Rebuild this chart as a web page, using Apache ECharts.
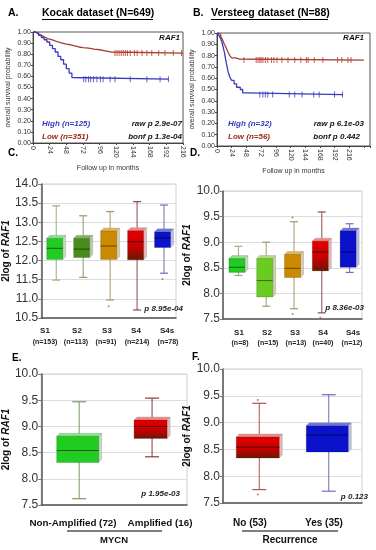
<!DOCTYPE html>
<html><head><meta charset="utf-8">
<script src="https://cdn.jsdelivr.net/npm/echarts@6/dist/echarts.min.js"></script>
<style>html,body{margin:0;padding:0;background:#fff}#c{width:376px;height:550px}</style>
</head><body><div id="c"></div>
<script>
// ---------- DATA ----------
const aLowT  = [0,3,6,9,12,15,18,21,24,30,36,42,48,54,60,66,72,80,88,96,104,112,216];
const aLowS  = [1,0.99,0.98,0.97,0.96,0.95,0.94,0.935,0.925,0.91,0.9,0.89,0.885,0.875,0.865,0.86,0.855,0.845,0.84,0.83,0.82,0.81,0.81];
const aHighT = [0,4,8,12,16,20,24,28,32,36,40,44,48,52,56,58,195];
const aHighS = [1,0.99,0.97,0.95,0.93,0.91,0.88,0.85,0.82,0.78,0.75,0.71,0.67,0.63,0.59,0.575,0.575];
const aLowCensor  = [118,121,124,127,130,133,136,140,146,150,157,164,171,181,190,202,214];
const aHighCensor = [73,76,80,83,87,92,97,101,111,118,140,164,183,195];

const bLowT  = [0,3,6,9,12,15,18,21,24,30,36,240];
const bLowS  = [1,0.99,0.97,0.94,0.9,0.87,0.83,0.8,0.78,0.77,0.76,0.76];
const bHighT = [0,3,6,9,12,15,18,21,24,28,32,38,42,48,206];
const bHighS = [1,0.98,0.95,0.9,0.83,0.74,0.66,0.61,0.58,0.55,0.52,0.5,0.47,0.455,0.455];
const bLowCensor  = [44,64,67,70,72,75,79,83,89,93,98,106,116,127,137,146,149,159,173,197,204,214,219];
const bHighCensor = [70,75,79,83,91,118,127,139,158,167,192,205];

const stageCats = ['S1','S2','S3','S4','S4s'];
const cCounts = ['(n=153)','(n=113)','(n=91)','(n=214)','(n=78)'];
const dCounts = ['(n=8)','(n=15)','(n=13)','(n=40)','(n=12)'];
// [low whisker, Q1, median, Q3, high whisker]
const cBoxes = [[11.49,12.03,12.32,12.58,13.43],[11.56,12.08,12.30,12.58,13.17],[10.97,12.03,12.38,12.77,13.28],[10.71,12.02,12.49,12.78,13.54],[11.67,12.34,12.59,12.75,13.45]];
const cOutliers = [[2,10.81],[4,11.52]];
const dBoxes = [[8.35,8.41,8.51,8.68,8.92],[7.75,7.93,8.25,8.68,9.0],[7.70,8.31,8.49,8.76,9.40],[7.62,8.44,8.81,9.02,9.59],[8.41,8.51,8.81,9.22,9.36]];
const dOutliers = [[2,9.48],[2,7.6],[3,7.53]];
const eCats = ['Non-Amplified (72)','Amplified (16)'];
const eBoxes = [[7.62,8.31,8.54,8.81,9.47],[8.42,8.77,9.0,9.12,9.54]];
const fCats = ['No (53)','Yes (35)'];
const fBoxes = [[7.75,8.34,8.54,8.73,9.36],[7.72,8.45,8.77,8.94,9.52]];
const fOutliers = [[0,9.42],[0,7.66]];

// ---------- STYLE / LAYOUT ----------
const FONT = 'Liberation Sans, Arial, Helvetica, sans-serif';
const LOWC = '#a3402e', LOWTXT = '#9a2a1a', HIGHC = '#3a3ac0';
function redGrad(){ return new echarts.graphic.LinearGradient(0,0,0,1,[{offset:0,color:'#e40000'},{offset:0.55,color:'#c80000'},{offset:1,color:'#6a1800'}]); }
const GREEN = {front:'#1fcc1f', top:'#8ae48a', side:'#c4dcc0', med:'#1a5a1a', wh:'#9aae80'};
const OLIVE = {front:'#4a8c1c', top:'#8cb064', side:'#c0c8a8', med:'#244a0c', wh:'#8c9c70'};
const LIME  = {front:'#6acc20', top:'#aee074', side:'#c8d4a8', med:'#3a6a10', wh:'#98a070'};
const GOLD  = {front:'#cc8a00', top:'#e4b850', side:'#dcccaa', med:'#6a4800', wh:'#a8946c'};
const RED   = {front:'red', top:'#f08888', side:'#e4b8b8', med:'#5a0000', wh:'#8c4a4a'};
const BLUE  = {front:'#0a12cc', top:'#6a74e0', side:'#b8bee8', med:'#00085a', wh:'#6c6cc0'};
const cStyles = [GREEN, OLIVE, GOLD, RED, BLUE].map(s=>Object.assign({w:16},s));
const dStyles = [GREEN, LIME, GOLD, RED, BLUE].map(s=>Object.assign({w:16},s));
const eStyles = [Object.assign({w:42},GREEN,{wh:'#7a9a60'}), Object.assign({w:33},RED,{wh:'#8a3a3a'})];
const fStyles = [Object.assign({w:43},RED,{wh:'#b05050'}), Object.assign({w:42},BLUE)];
// label anchor positions (x centres) for category text
const cLabelX = [45,77,107,136,167], cNX = [45,76,106,137,168];
const dLabelX = [239,267,295,323,353], dNX = [240,268,296,323,352];
const eLabelX = [73,160], fLabelX = [250,324];

function zip(T,S){ return T.map((t,i)=>[t,S[i]]); }
function survAt(T,S,t){ let v=S[0]; for(let i=0;i<T.length;i++){ if(T[i]<=t) v=S[i]; } return v; }
function censorData(list,T,S){ return list.map(t=>[t,survAt(T,S,t)]); }

function boxRenderer(styles, depth, capW){
  return function(params, api){
    const st = styles[params.dataIndex];
    const c = api.value(0);
    const P = v => api.coord([c, v]);
    const lo=P(api.value(1)), q1=P(api.value(2)), md=P(api.value(3)), q3=P(api.value(4)), hi=P(api.value(5));
    const w = st.w, d = depth, cx = lo[0];
    const x0 = cx - w/2, x1 = cx + w/2, wx = cx + d/2;
    const front = st.front==='red' ? redGrad() : st.front;
    return {type:'group', children:[
      {type:'line', shape:{x1:wx,y1:hi[1],x2:wx,y2:lo[1]}, style:{stroke:st.wh,lineWidth:1}},
      {type:'line', shape:{x1:wx-capW/2,y1:hi[1],x2:wx+capW/2,y2:hi[1]}, style:{stroke:st.wh,lineWidth:1.2}},
      {type:'line', shape:{x1:wx-capW/2,y1:lo[1],x2:wx+capW/2,y2:lo[1]}, style:{stroke:st.wh,lineWidth:1.2}},
      {type:'polygon', shape:{points:[[x1,q3[1]],[x1+d,q3[1]-d],[x1+d,q1[1]-d],[x1,q1[1]]]}, style:{fill:st.side,stroke:'#999',lineWidth:0.4}},
      {type:'polygon', shape:{points:[[x0,q3[1]],[x0+d,q3[1]-d],[x1+d,q3[1]-d],[x1,q3[1]]]}, style:{fill:st.top,stroke:'#999',lineWidth:0.4}},
      {type:'rect', shape:{x:x0,y:q3[1],width:w,height:q1[1]-q3[1]}, style:{fill:front,stroke:'rgba(0,0,0,0.35)',lineWidth:0.5}},
      {type:'line', shape:{x1:x0,y1:md[1],x2:x1,y2:md[1]}, style:{stroke:st.med,lineWidth:1}}
    ]};
  };
}
function boxData(boxes){ return boxes.map((b,i)=>[i].concat(b)); }

function kmX(grid,max,hideAbove){
  return {gridIndex:grid,type:'value',min:0,max:max,interval:24,
    axisLine:{lineStyle:{color:'#444'}},axisTick:{length:2,lineStyle:{color:'#444'}},splitLine:{show:false},
    axisLabel:{rotate:-90,fontSize:7,margin:3,color:'#333',fontFamily:FONT,formatter:v=>v>hideAbove?'':String(v)},
    name:'Follow up in months',nameLocation:'middle',nameGap:22,nameTextStyle:{fontSize:7,color:'#333',fontFamily:FONT}};
}
function kmY(grid){
  return {gridIndex:grid,type:'value',min:0,max:1,interval:0.1,
    axisLine:{show:true,lineStyle:{color:'#444'}},axisTick:{show:true,length:2},splitLine:{show:false},
    axisLabel:{fontSize:7,margin:2,color:'#333',fontFamily:FONT,formatter:v=>v.toFixed(2)},
    name:'overall survival probability',nameLocation:'middle',nameGap:21,nameRotate:90,nameTextStyle:{fontSize:7,color:'#333',fontFamily:FONT}};
}
function boxY(grid,min,max){
  return {gridIndex:grid,type:'value',min:min,max:max,interval:0.5,
    axisLine:{show:true,lineStyle:{color:'#555',width:1.5}},axisTick:{show:true,length:3,lineStyle:{color:'#777'}},
    splitLine:{lineStyle:{color:'#dcdcdc'}},
    axisLabel:{fontSize:12,margin:3,color:'#333',fontFamily:FONT,formatter:v=>v.toFixed(1)},
    name:'{a|2log of }{b|RAF1}',nameLocation:'middle',nameGap:26,nameRotate:90,
    nameTextStyle:{rich:{a:{fontSize:10,fontWeight:'bold',fontFamily:FONT,color:'#111'},b:{fontSize:10,fontWeight:'bold',fontStyle:'italic',fontFamily:FONT,color:'#111'}}}};
}
function catX(grid,cats){
  return {gridIndex:grid,type:'category',data:cats,boundaryGap:true,
    axisLine:{lineStyle:{color:'#555',width:1.5}},axisTick:{show:false},axisLabel:{show:false}};
}

const chart = echarts.init(document.getElementById('c'), null, {renderer:'canvas'});

function txt(x,y,text,font,fill,align){ return {type:'text',x:x,y:y,z:10,style:{text:text,font:font,fill:fill||'#000',align:align||'left',verticalAlign:'middle'}}; }
function ln(x1,y1,x2,y2,c,w){ return {type:'line',z:10,shape:{x1,y1,x2,y2},style:{stroke:c||'#000',lineWidth:w||1}}; }
const BI8 = 'italic bold 8px '+FONT;

const catTexts = [];
stageCats.forEach((s,i)=>{
  catTexts.push(txt(cLabelX[i],331,s,'bold 8px '+FONT,'#222','center'));
  catTexts.push(txt(cNX[i],342,cCounts[i],'bold 7px '+FONT,'#222','center'));
  catTexts.push(txt(dLabelX[i],333,s,'bold 8px '+FONT,'#222','center'));
  catTexts.push(txt(dNX[i],343.5,dCounts[i],'bold 7px '+FONT,'#222','center'));
});
eCats.forEach((s,i)=>catTexts.push(txt(eLabelX[i],523,s,'bold 9.8px '+FONT,'#111','center')));
fCats.forEach((s,i)=>catTexts.push(txt(fLabelX[i],523,s,'bold 10px '+FONT,'#111','center')));

const option = {
  animation:false,
  backgroundColor:'#fff',
  grid:[
    {left:33,top:32,width:150,height:111,show:true,borderColor:'#555',borderWidth:1},
    {left:217,top:33,width:153,height:113,show:true,borderColor:'#555',borderWidth:1},
    {left:40,top:184,width:136,height:134,show:true,borderColor:'#cfcfcf',borderWidth:1},
    {left:223,top:191,width:139,height:128,show:true,borderColor:'#cfcfcf',borderWidth:1},
    {left:39,top:374,width:148,height:131,show:true,borderColor:'#cfcfcf',borderWidth:1},
    {left:223,top:369,width:139,height:134,show:true,borderColor:'#cfcfcf',borderWidth:1}
  ],
  xAxis:[kmX(0,216,216),kmX(1,250,216),catX(2,stageCats),catX(3,stageCats),catX(4,eCats),catX(5,fCats)],
  yAxis:[kmY(0),kmY(1),boxY(2,10.5,14),boxY(3,7.5,10),boxY(4,7.5,10),boxY(5,7.5,10)],
  series:[
    {type:'line',xAxisIndex:0,yAxisIndex:0,step:'end',showSymbol:false,data:zip(aLowT,aLowS),lineStyle:{color:LOWC,width:1.3}},
    {type:'line',xAxisIndex:0,yAxisIndex:0,step:'end',showSymbol:false,data:zip(aHighT,aHighS),lineStyle:{color:HIGHC,width:1.3}},
    {type:'scatter',xAxisIndex:0,yAxisIndex:0,symbol:'rect',symbolSize:[1,6],itemStyle:{color:'#c03030'},data:censorData(aLowCensor,aLowT,aLowS)},
    {type:'scatter',xAxisIndex:0,yAxisIndex:0,symbol:'rect',symbolSize:[1,6],itemStyle:{color:HIGHC},data:censorData(aHighCensor,aHighT,aHighS)},
    {type:'line',xAxisIndex:1,yAxisIndex:1,step:'end',showSymbol:false,data:zip(bLowT,bLowS),lineStyle:{color:LOWC,width:1.3}},
    {type:'line',xAxisIndex:1,yAxisIndex:1,step:'end',showSymbol:false,data:zip(bHighT,bHighS),lineStyle:{color:HIGHC,width:1.3}},
    {type:'scatter',xAxisIndex:1,yAxisIndex:1,symbol:'rect',symbolSize:[1,6],itemStyle:{color:'#c03030'},data:censorData(bLowCensor,bLowT,bLowS)},
    {type:'scatter',xAxisIndex:1,yAxisIndex:1,symbol:'rect',symbolSize:[1,6],itemStyle:{color:HIGHC},data:censorData(bHighCensor,bHighT,bHighS)},
    {type:'custom',xAxisIndex:2,yAxisIndex:2,renderItem:boxRenderer(cStyles,3,8),data:boxData(cBoxes),z:3},
    {type:'scatter',xAxisIndex:2,yAxisIndex:2,symbolSize:2,itemStyle:{color:'#777'},data:cOutliers},
    {type:'custom',xAxisIndex:3,yAxisIndex:3,renderItem:boxRenderer(dStyles,3,8),data:boxData(dBoxes),z:3},
    {type:'scatter',xAxisIndex:3,yAxisIndex:3,symbolSize:2,itemStyle:{color:'#777'},data:dOutliers},
    {type:'custom',xAxisIndex:4,yAxisIndex:4,renderItem:boxRenderer(eStyles,3,14),data:boxData(eBoxes),z:3},
    {type:'custom',xAxisIndex:5,yAxisIndex:5,renderItem:boxRenderer(fStyles,3,14),data:boxData(fBoxes),z:3},
    {type:'scatter',xAxisIndex:5,yAxisIndex:5,symbolSize:2,itemStyle:{color:'#b05050'},data:fOutliers}
  ],
  graphic:[
    txt(8,13,'A.','bold 10.5px '+FONT),
    txt(42,13,'Kocak dataset (N=649)','bold 10.5px '+FONT),
    ln(42,19.5,153,19.5,'#000',1),
    txt(193,13,'B.','bold 10.5px '+FONT),
    txt(211,13,'Versteeg dataset (N=88)','bold 10.5px '+FONT),
    ln(211,19.5,328,19.5,'#000',1),
    txt(180,38,'RAF1',BI8,'#111','right'),
    txt(364,38,'RAF1',BI8,'#111','right'),
    txt(42,124,'High (n=125)',BI8,HIGHC),
    txt(42,137,'Low (n=351)',BI8,LOWTXT),
    txt(182,124,'raw p 2.9e-07',BI8,'#111','right'),
    txt(182,137,'bonf p 1.3e-04',BI8,'#111','right'),
    txt(228,124,'High (n=32)',BI8,HIGHC),
    txt(228,137,'Low (n=56)',BI8,LOWTXT),
    txt(364,124,'raw p 6.1e-03',BI8,'#111','right'),
    txt(360,137,'bonf p 0.442',BI8,'#111','right'),
    txt(8,153,'C.','bold 10px '+FONT),
    txt(190,153,'D.','bold 10px '+FONT),
    txt(12,358,'E.','bold 10px '+FONT),
    txt(192,357,'F.','bold 10px '+FONT),
    txt(183,309,'p 8.95e-04',BI8,'#222','right'),
    txt(364,308,'p 8.36e-03',BI8,'#222','right'),
    txt(180,494,'p 1.95e-03',BI8,'#222','right'),
    txt(368,497,'p 0.123',BI8,'#222','right'),
    ln(67,531,162,531,'#000',1),
    txt(114,540,'MYCN','bold 9.5px '+FONT,'#111','center'),
    ln(242,531,338,531,'#000',1),
    txt(290,540,'Recurrence','bold 10px '+FONT,'#111','center')
  ].concat(catTexts)
};
chart.setOption(option);
</script></body></html>
